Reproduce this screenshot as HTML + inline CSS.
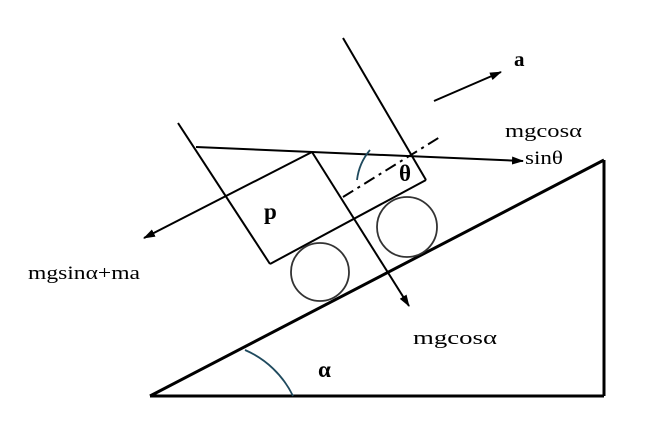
<!DOCTYPE html>
<html><head><style>body{margin:0;background:#fff}svg{display:block}</style></head><body>
<svg width="655" height="426" viewBox="0 0 655 426" xmlns="http://www.w3.org/2000/svg" font-family="Liberation Serif, serif">
<defs><marker id="ar" markerWidth="12" markerHeight="8" refX="11" refY="4" orient="auto" markerUnits="userSpaceOnUse"><path d="M0,0 L12,4 L0,8 Z" fill="#000"/></marker></defs>
<g stroke="#000" fill="none" stroke-width="2">
<line x1="150" y1="396" x2="604" y2="160" stroke-width="3"/>
<line x1="604" y1="160" x2="604" y2="396" stroke-width="3"/>
<line x1="150" y1="396" x2="604" y2="396" stroke-width="3"/>
<line x1="178" y1="123" x2="270" y2="264"/>
<line x1="270" y1="264" x2="426" y2="180"/>
<line x1="343" y1="38" x2="426" y2="180"/>
<line x1="312" y1="152" x2="409" y2="306" marker-end="url(#ar)"/>
<line x1="312" y1="152" x2="144" y2="238" marker-end="url(#ar)"/>
<line x1="196" y1="147" x2="523" y2="161" marker-end="url(#ar)"/>
<line x1="343" y1="197" x2="440" y2="137" stroke-dasharray="12,5,3,5"/>
<line x1="434" y1="101" x2="501" y2="72" marker-end="url(#ar)"/>
<circle cx="320" cy="272" r="29" stroke="#333" stroke-width="1.8"/>
<circle cx="407" cy="227" r="30" stroke="#333" stroke-width="1.8"/>
<path d="M245,350 A95,95 0 0 1 293,396" stroke="#1f4a5e" stroke-width="1.8"/>
<path d="M370,150 Q359,163 357,180" stroke="#1f4a5e" stroke-width="1.8"/>
</g>
<g fill="#000">
<text x="514" y="66" font-size="21" font-weight="bold">a</text>
<text x="505" y="137" font-size="19" textLength="77" lengthAdjust="spacingAndGlyphs">mgcosα</text>
<text x="525" y="164" font-size="19" textLength="38" lengthAdjust="spacingAndGlyphs">sinθ</text>
<text x="399" y="181" font-size="23" font-weight="bold">θ</text>
<text x="264" y="219" font-size="23" font-weight="bold">p</text>
<text x="28" y="279" font-size="19" textLength="112" lengthAdjust="spacingAndGlyphs">mgsinα+ma</text>
<text x="413" y="344" font-size="19" textLength="84" lengthAdjust="spacingAndGlyphs">mgcosα</text>
<text x="318" y="377" font-size="23" font-weight="bold">α</text>
</g>
</svg>
</body></html>
